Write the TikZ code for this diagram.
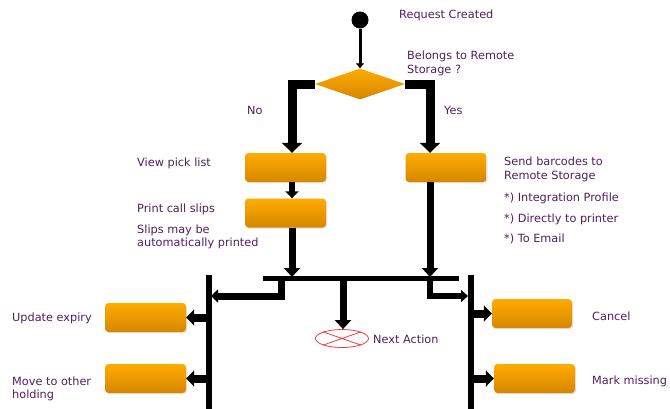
\documentclass[tikz,border=0pt]{standalone}
\usepackage{fontspec}
\setmainfont{DejaVu Sans}
\usetikzlibrary{arrows.meta,shapes.geometric,shadows}
\definecolor{txt}{RGB}{80,30,90}
\definecolor{otop}{RGB}{255,172,0}
\definecolor{obot}{RGB}{214,134,0}
\definecolor{nred}{RGB}{240,60,60}
\begin{document}
\begin{tikzpicture}[x=1pt,y=-1pt,
  lbl/.style={anchor=west,inner sep=0pt,text=txt,font=\fontsize{11.3}{13.5}\selectfont,align=left},
  obox/.style={rectangle,rounded corners=3.5pt,minimum width=81pt,minimum height=29pt,inner sep=0pt,
    top color=otop,bottom color=obot,draw=none,
    drop shadow={opacity=0.22,shadow xshift=1pt,shadow yshift=-1.2pt}},
  bigarr/.style={line width=9pt,-{Triangle[length=10pt,width=20pt]}},
  midarr/.style={line width=7pt,-{Triangle[length=9pt,width=16pt]}},
  smallarr/.style={line width=6pt,-{Triangle[length=7pt,width=13pt]}},
  sidearr/.style={line width=8pt,-{Triangle[length=8pt,width=16pt]}},
  thinarr/.style={line width=3pt,-{Triangle[length=5pt,width=8pt]}},
  barline/.style={line width=5pt},
  vbar/.style={line width=6pt},
]
\useasboundingbox (0,0) rectangle (670,408);

% nodes
\node[circle,fill=black,minimum size=17pt,inner sep=0pt] (start) at (360,20) {};
\node[diamond,aspect=2.9,minimum width=90pt,minimum height=31pt,inner sep=0pt,
      top color=otop,bottom color=obot,draw=none] (dec) at (360,84) {};
\node[obox] (view) at (285.5,167.5) {};
\node[obox] (print) at (285.5,213) {};
\node[obox] (send) at (446,167.5) {};
\node[obox] (upd) at (145.5,317.5) {};
\node[obox] (move) at (145.5,378.5) {};
\node[obox,minimum width=80pt] (cancel) at (532,313.5) {};
\node[obox] (mark) at (534.5,378.5) {};
\node[ellipse,draw=nred,line width=0.8pt,minimum width=53pt,minimum height=18pt,inner sep=0pt] (next) at (342,338.5) {};
\draw[nred,line width=0.8pt] (next.north west) -- (next.south east) (next.south west) -- (next.north east);

% coordinates
\coordinate (lcol) at (292,0);
\coordinate (rcol) at (430,0);
\coordinate (barL) at (263,278.5);
\coordinate (barR) at (459,278.5);
\coordinate (lk) at (281,278.5);
\coordinate (lke) at (211,296);
\coordinate (rk) at (430,278.5);
\coordinate (rke) at (468,296);
\coordinate (ck) at (343,278.5);
\coordinate (vLt) at (208.5,275);
\coordinate (vLb) at (208.5,412);
\coordinate (vRt) at (470.5,275);
\coordinate (vRb) at (470.5,412);
\coordinate (pin) at (292,277);
\coordinate (sin) at (430,277);

% connectors
\draw[thinarr] (start) -- (dec.north);
\draw[bigarr] (dec.west) -| (lcol |- view.north);
\draw[bigarr] (dec.east) -| (rcol |- send.north);
\draw[smallarr] (lcol |- view.south) -- (lcol |- print.north);
\draw[midarr] (lcol |- print.south) -- (pin);
\draw[midarr] (rcol |- send.south) -- (sin);
\draw[barline] (barL) -- (barR);
\draw[vbar] (vLt) -- (vLb);
\draw[vbar] (vRt) -- (vRb);
\draw[line width=7pt,-{Triangle[length=7pt,width=13pt]}] (lk) |- (lke);
\draw[line width=6pt,-{Triangle[length=7pt,width=12pt]}] (rk) |- (rke);
\draw[midarr] (ck) -- (ck |- next.north);
\draw[sidearr] (vLt |- upd.east) -- (upd.east);
\draw[sidearr] (vLt |- move.east) -- (move.east);
\draw[sidearr] (vRt |- cancel.west) -- (cancel.west);
\draw[sidearr] (vRt |- mark.west) -- (mark.west);

% labels
\node[lbl] (t1) at (399,15) {Request Created};
\node[lbl] (t2) at (407,63.5) {Belongs to Remote\\Storage ?};
\node[lbl] (t3) at (247,110) {No};
\node[lbl] (t4) at (444,110) {Yes};
\node[lbl] (t5) at (137,163) {View pick list};
\node[lbl] (t6) at (137,209) {Print call slips};
\node[lbl] (t7) at (137,237) {Slips may be\\automatically printed};
\node[lbl] (t8) at (504,169.5) {Send barcodes to\\Remote Storage};
\node[lbl] (t9) at (504,198) {*) Integration Profile};
\node[lbl] (t10) at (504,219) {*) Directly to printer};
\node[lbl] (t11) at (504,239) {*) To Email};
\node[lbl] (t12) at (12,318) {Update expiry};
\node[lbl] (t13) at (12,389) {Move to other\\holding};
\node[lbl] (t14) at (373,339) {Next Action};
\node[lbl] (t15) at (592,316) {Cancel};
\node[lbl] (t16) at (592,381) {Mark missing};
\end{tikzpicture}
\end{document}
